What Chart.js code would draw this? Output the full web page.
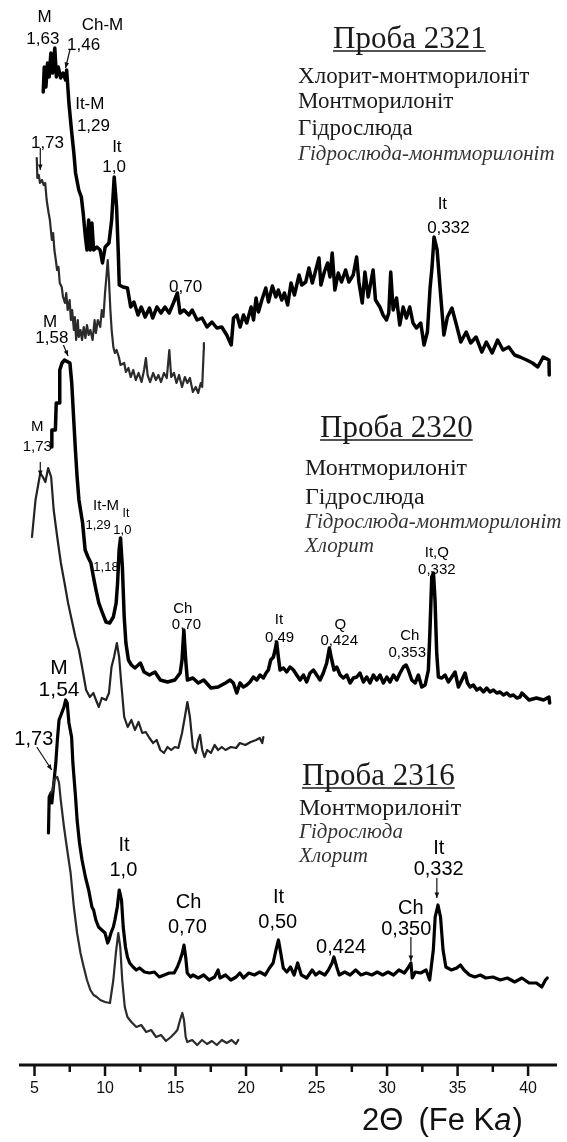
<!DOCTYPE html>
<html lang="uk">
<head>
<meta charset="utf-8">
<title>Дифрактограми: проби 2321, 2320, 2316</title>
<script src="https://cdn.jsdelivr.net/npm/chart.js@4.4.1/dist/chart.umd.min.js"></script>
<style>
  html, body { margin: 0; padding: 0; background: #fff; }
  canvas { display: block; }
</style>
</head>
<body>
<canvas id="xrd" width="567" height="1142"></canvas>
<script>
// 2θ (deg) and stacked intensity (a.u.), one pair per curve

// Проба 2321, thick curve
const t2321 = [5.62,5.69,5.81,5.92,6.04,6.16,6.28,6.44,6.55,6.69,6.85,7.02,7.21,7.28,7.44,7.62,7.79,7.91,8.14,8.32,8.45,8.61,8.72,8.84,8.95,9.07,9.19,9.42,9.65,9.82,10.01,10.28,10.47,10.65,10.82,10.94,11.01,11.28,11.59,11.82,12.05,12.34,12.57,12.85,13.15,13.38,13.68,13.97,14.25,14.55,14.85,15.13,15.32,15.6,15.95,16.18,16.53,16.88,17.23,17.58,17.93,18.28,18.63,
  18.95,19.11,19.35,19.58,19.82,20.05,20.36,20.53,20.71,20.88,21.12,21.4,21.59,21.87,22.11,22.29,22.53,22.72,22.95,23.19,23.43,23.76,23.95,24.23,24.46,24.7,24.89,25.17,25.31,25.55,25.78,25.95,26.11,26.3,26.54,26.77,27.06,27.29,27.6,27.84,28.0,28.24,28.43,28.66,29.01,29.18,29.49,29.72,29.96,30.12,30.26,30.43,30.67,30.9,31.14,31.37,31.61,31.84,32.08,32.39,32.62,32.86,33.05,33.19,33.33,33.55,33.77,34.03,34.28,34.6,34.92,35.23,35.61,35.93,36.31,36.72,37.04,37.45,37.84,38.22,38.63,39.04,39.42,39.9,40.31,40.69,41.07,41.48,41.5];
const i2321 = [973,998,978,1002,988,1012,992,1017,988,998,987,992,985,995,962,935,912,892,875,868,852,828,815,845,815,842,815,818,815,802,818,822,845,888,858,812,780,778,777,758,763,750,758,748,757,747,758,752,758,752,762,772,752,755,750,755,745,747,738,743,737,738,730,
  720,747,750,738,750,742,758,745,767,753,765,777,763,779,768,775,765,772,760,782,770,790,780,783,797,782,792,807,780,793,802,788,812,775,792,783,795,783,790,808,783,762,793,768,795,765,758,750,745,752,793,755,767,740,758,747,758,742,737,742,720,733,777,798,828,815,775,730,748,757,740,723,733,722,728,713,723,712,725,715,718,710,708,705,702,698,708,705,690];

// Проба 2321, thin curve
const t2321b = [5.16,5.2,5.3,5.39,5.53,5.65,5.76,5.86,6.0,6.09,6.23,6.32,6.41,6.51,6.6,6.7,6.79,6.93,7.02,7.16,7.25,7.35,7.49,7.58,7.67,7.79,7.86,7.95,8.07,8.14,8.26,8.37,8.49,8.61,8.72,8.84,8.96,9.12,9.26,9.35,9.49,9.66,9.77,9.89,10.0,10.12,10.19,10.28,10.38,10.47,10.59,10.7,10.82,10.98,
  11.1,11.36,11.48,11.66,11.82,12.0,12.18,12.38,12.59,12.77,12.9,13.02,13.2,13.41,13.61,13.79,13.97,14.18,14.38,14.56,14.69,14.89,15.07,15.25,15.46,15.66,15.84,16.02,16.23,16.43,16.61,16.79,16.89,17.0,17.01];
const i2321b = [907,887,890,882,885,880,882,865,852,845,825,832,815,805,795,798,782,778,768,762,772,755,765,745,755,735,748,725,745,728,735,725,738,727,740,730,735,725,745,732,745,738,755,748,772,792,805,785,755,735,718,712,715,708,
  700,702,693,697,688,695,685,692,683,695,707,690,683,692,685,690,683,692,687,715,688,692,682,690,678,688,682,687,673,678,672,682,678,715,722];

// Проба 2320, thick curve
const t2320 = [6.23,6.23,6.48,6.54,6.74,6.79,6.95,7.13,7.38,7.51,7.64,7.77,7.9,8.02,8.15,8.41,8.59,8.79,9.0,9.18,9.36,9.56,9.82,10.07,10.33,10.59,10.79,10.89,11.0,11.1,11.23,11.36,11.48,11.66,11.87,12.12,12.51,12.77,13.15,13.54,13.92,14.43,14.95,15.33,15.46,15.59,15.72,15.84,16.23,16.61,17.0,17.51,18.02,18.54,
  18.87,19.1,19.34,19.57,19.81,20.05,20.28,20.52,20.76,20.99,21.23,21.42,21.58,21.75,21.94,22.06,22.17,22.29,22.41,22.65,22.88,23.12,23.36,23.59,23.83,24.07,24.3,24.54,24.78,25.01,25.25,25.48,25.72,25.91,26.08,26.24,26.43,26.67,26.9,27.14,27.38,27.61,27.85,28.08,28.32,28.56,28.79,29.03,29.27,29.5,29.74,29.98,30.21,30.45,30.69,30.92,31.16,31.35,31.51,31.75,31.99,32.22,32.46,32.7,32.93,33.05,33.17,33.29,33.4,33.52,33.64,33.88,34.11,34.35,34.59,34.82,35.06,35.3,35.53,35.7,35.89,36.12,36.36,36.6,36.83,37.07,37.3,37.54,37.78,38.01,38.25,38.49,38.72,38.96,39.2,39.43,
  39.56,40.07,40.59,41.1,41.48,41.53];
const i2320 = [618,635,635,662,662,695,702,705,703,702,682,648,615,588,565,542,515,508,502,488,475,462,452,443,442,448,462,482,515,527,498,448,422,405,400,397,402,393,390,393,385,383,385,392,405,435,405,385,387,382,385,377,378,382,
  385,382,372,382,378,380,383,388,385,390,387,392,395,405,408,415,423,408,395,397,393,398,395,390,385,390,383,392,395,390,385,392,402,417,405,395,398,390,387,390,382,387,388,392,383,388,382,390,385,390,382,388,383,390,385,392,398,400,395,385,382,390,378,380,395,438,488,492,465,412,388,387,390,383,388,393,378,385,392,382,378,380,375,377,373,377,373,375,372,373,370,372,369,370,367,368,
  372,365,367,365,368,362];

// Проба 2320, thin curve
const t2320b = [4.82,5.07,5.41,5.59,5.77,5.97,6.18,6.36,6.61,6.87,7.13,7.38,7.64,7.9,8.15,8.41,8.66,8.92,9.18,9.36,9.56,9.77,10.07,10.28,10.46,10.64,10.84,11.0,11.15,
  11.36,11.61,11.87,12.12,12.38,12.64,12.89,13.15,13.41,13.66,13.92,14.18,14.43,14.69,14.95,15.2,15.46,15.66,15.84,16.02,16.23,16.43,16.61,16.74,16.89,17.05,17.25,17.51,17.77,18.02,18.28,18.54,18.92,19.3,19.56,19.95,20.33,20.71,20.97,21.15,21.23];
const i2320b = [528,565,592,588,583,597,588,555,528,502,482,462,445,428,415,395,375,368,372,365,358,367,365,372,398,408,422,408,382,
  348,338,345,335,343,332,333,327,322,325,315,312,318,315,318,317,332,348,363,348,318,312,325,330,315,308,315,312,320,315,318,315,318,317,322,320,323,325,327,322,328];

// Проба 2316, thick curve
const t2316 = [5.99,6.04,6.16,6.23,6.32,6.44,6.51,6.62,6.74,6.93,7.09,7.21,7.32,7.44,7.63,7.72,7.91,8.02,8.19,8.37,8.61,8.84,9.07,9.19,9.35,9.54,9.77,10.0,10.19,10.28,10.42,10.59,10.7,10.87,11.01,11.17,11.29,11.45,11.59,11.75,11.99,12.22,12.45,12.8,13.15,13.5,13.85,14.2,14.55,14.9,15.13,15.32,15.48,15.6,15.72,15.83,16.07,
  16.23,16.61,17.0,17.38,17.77,18.02,18.15,18.54,18.92,19.3,19.56,19.82,20.2,20.59,20.97,21.36,21.66,21.92,22.12,22.3,22.46,22.64,22.89,23.15,23.41,23.66,23.92,24.3,24.69,24.94,25.2,25.59,25.84,26.1,26.23,26.43,26.61,27.0,27.38,27.77,28.15,28.53,28.92,29.3,29.69,30.07,30.46,30.84,31.23,31.48,31.69,31.79,32.0,32.38,32.77,33.02,33.28,33.41,33.61,33.79,33.97,34.17,34.56,34.94,35.2,35.46,35.84,36.23,36.61,37.0,37.51,38.02,38.53,39.05,39.56,40.07,40.59,40.97,41.23,41.36];
const i2316 = [232,268,272,262,275,292,302,325,345,352,358,365,362,342,328,302,268,245,222,205,188,175,158,155,145,138,135,132,122,125,132,138,145,158,175,165,138,118,108,102,98,95,97,93,92,93,88,90,92,92,98,105,112,120,108,92,88,
  90,87,90,85,88,95,87,90,85,88,92,87,92,90,93,90,97,102,115,125,112,97,93,98,90,102,90,87,95,90,93,90,95,102,108,98,90,93,90,95,90,92,90,93,90,93,90,95,92,97,102,87,93,92,95,85,115,148,160,148,115,98,95,97,100,95,90,88,90,87,88,85,87,83,87,82,82,78,85,87];

// Проба 2316, thin curve
const t2316b = [6.16,6.28,6.39,6.51,6.62,6.74,6.86,7.09,7.32,7.56,7.79,8.02,8.26,8.49,8.72,8.96,9.19,9.42,9.66,10.0,10.35,10.59,10.77,10.94,11.08,11.22,11.4,11.59,11.87,12.22,12.57,12.92,13.27,13.62,13.97,14.32,14.67,14.95,15.13,15.32,15.48,15.6,15.72,15.83,16.18,16.53,16.88,17.23,17.58,17.93,18.28,18.63,18.98,19.28,19.45];
const i2316b = [272,275,285,287,288,282,265,238,215,192,158,132,112,98,85,75,70,68,65,63,62,85,112,132,118,85,58,48,43,38,40,33,35,28,30,24,28,32,35,45,52,45,28,23,25,20,25,21,24,20,25,22,25,21,25];

// axis ticks
const majorTicks = [5, 10, 15, 20, 25, 30, 35, 40];
const minorTicks = [7.5, 12.5, 17.5, 22.5, 27.5, 32.5, 37.5];

// peak labels: text, 2θ, intensity, font size
const peakLabels = [
  ['M', 5.72, 1048, 17], ['1,63', 5.59, 1026, 17], ['Ch-M', 9.82, 1040, 17], ['1,46', 8.48, 1020, 17],
  ['It-M', 8.92, 961, 17], ['1,29', 9.18, 939, 17], ['1,73', 5.92, 922, 17],
  ['It', 10.84, 918, 17], ['1,0', 10.64, 898, 17], ['0,70', 15.71, 778, 17],
  ['It', 33.92, 861, 17], ['0,332', 34.35, 837, 17], ['M', 6.1, 743, 17], ['1,58', 6.23, 727, 17],
  ['M', 5.2, 638, 15], ['1,73', 5.2, 618, 15], ['It-M', 10.07, 559, 15], ['It', 11.48, 551, 12],
  ['1,29', 9.51, 540, 13], ['1,0', 11.23, 535, 13], ['1,18', 10.07, 498, 13],
  ['Ch', 15.51, 456, 15], ['0,70', 15.77, 440, 15], ['It', 22.33, 445, 15], ['0,49', 22.38, 427, 15],
  ['Q', 26.69, 440, 15], ['0,424', 26.61, 424, 15], ['Ch', 31.61, 429, 15], ['0,353', 31.43, 412, 15],
  ['It,Q', 33.53, 512, 15], ['0,332', 33.53, 495, 15],
  ['M', 6.74, 397, 21], ['1,54', 6.74, 375, 21], ['1,73', 4.95, 326, 20],
  ['It', 11.35, 220, 20], ['1,0', 11.3, 195, 20], ['Ch', 15.92, 163, 20], ['0,70', 15.84, 138, 20],
  ['It', 22.3, 168, 20], ['0,50', 22.25, 143, 20], ['0,424', 26.74, 118, 20],
  ['Ch', 31.69, 157, 20], ['0,350', 31.36, 136, 20], ['It', 33.66, 217, 20], ['0,332', 33.66, 196, 20]
];

// arrows from label to peak: 2θ from, intensity from, 2θ to, intensity to
const arrows = [
  [7.51, 1015, 7.2, 997], [5.41, 917, 5.41, 895], [7.05, 720, 7.38, 709],
  [5.41, 603, 5.41, 589], [5.16, 318, 6.22, 295], [31.69, 128, 31.69, 104], [33.53, 187, 33.53, 167]
];

// sample descriptions: text, 2θ of left edge, intensity of baseline, style
const sampleText = [
  ['Проба 2321', 26.17, 1017, 'title'],
  ['Хлорит-монтморилоніт', 23.69, 982, 'a'],
  ['Монтморилоніт', 23.69, 957, 'a'],
  ['Гідрослюда', 23.69, 930, 'a'],
  ['Гідрослюда-монтморилоніт', 23.69, 905, 'i'],
  ['Проба 2320', 25.25, 628, 'title'],
  ['Монтморилоніт', 24.18, 590, 'b'],
  ['Гідрослюда', 24.18, 561, 'b'],
  ['Гідрослюда-монтморилоніт', 24.18, 537, 'i'],
  ['Хлорит', 24.18, 513, 'i'],
  ['Проба 2316', 23.97, 280, 'title'],
  ['Монтморилоніт', 23.76, 250, 'b'],
  ['Гідрослюда', 23.76, 227, 'i'],
  ['Хлорит', 23.76, 203, 'i']
];

const SANS = '"Liberation Sans", Arial, sans-serif';
const SERIF = '"Liberation Serif", "Times New Roman", serif';
const textFonts = {
  title: '31px ' + SERIF,
  a: '23px ' + SERIF,
  b: '24px ' + SERIF,
  i: 'italic 21px ' + SERIF
};

function pts(xs, ys) {
  return xs.map((x, k) => ({ x: x, y: ys[k] }));
}

function curve(xs, ys, color, width) {
  return {
    data: pts(xs, ys),
    showLine: true,
    borderColor: color,
    borderWidth: width,
    pointRadius: 0,
    tension: 0,
    borderJoinStyle: 'round',
    borderCapStyle: 'round',
    clip: false
  };
}

const overlay = {
  id: 'overlay',
  afterDraw(chart) {
    const ctx = chart.ctx;
    const area = chart.chartArea;
    const x = chart.scales.x;
    const y = chart.scales.y;
    ctx.save();

    // axis line and ticks
    ctx.strokeStyle = '#111';
    ctx.lineWidth = 3;
    ctx.beginPath();
    ctx.moveTo(area.left, area.bottom);
    ctx.lineTo(area.right, area.bottom);
    ctx.stroke();
    ctx.lineWidth = 2.5;
    majorTicks.forEach(v => {
      const px = x.getPixelForValue(v);
      ctx.beginPath(); ctx.moveTo(px, area.bottom); ctx.lineTo(px, area.bottom + 11); ctx.stroke();
    });
    minorTicks.forEach(v => {
      const px = x.getPixelForValue(v);
      ctx.beginPath(); ctx.moveTo(px, area.bottom); ctx.lineTo(px, area.bottom + 7); ctx.stroke();
    });

    // axis title 2Θ (Fe Ka)
    let tx = x.getPixelForValue(28.23);
    const ty = area.bottom + 65;
    ctx.fillStyle = '#111';
    ctx.textAlign = 'left';
    ctx.textBaseline = 'alphabetic';
    ctx.font = '31px ' + SANS;
    ctx.fillText('2Θ', tx, ty);
    tx += ctx.measureText('2Θ').width + 15;
    ctx.fillText('(Fe K', tx, ty);
    tx += ctx.measureText('(Fe K').width;
    ctx.font = 'italic 31px ' + SANS;
    ctx.fillText('a', tx, ty);
    tx += ctx.measureText('a').width + 1;
    ctx.font = '31px ' + SANS;
    ctx.fillText(')', tx, ty);

    // peak labels
    ctx.fillStyle = '#000';
    ctx.textAlign = 'center';
    ctx.textBaseline = 'middle';
    peakLabels.forEach(([txt, lx, ly, size]) => {
      ctx.font = size + 'px ' + SANS;
      ctx.fillText(txt, x.getPixelForValue(lx), y.getPixelForValue(ly));
    });

    // arrows
    ctx.strokeStyle = '#111';
    ctx.fillStyle = '#111';
    ctx.lineWidth = 1.2;
    arrows.forEach(([x0, y0, x1, y1]) => {
      const ax = x.getPixelForValue(x0), ay = y.getPixelForValue(y0);
      const bx = x.getPixelForValue(x1), by = y.getPixelForValue(y1);
      const ang = Math.atan2(by - ay, bx - ax);
      ctx.beginPath(); ctx.moveTo(ax, ay); ctx.lineTo(bx, by); ctx.stroke();
      ctx.beginPath();
      ctx.moveTo(bx, by);
      ctx.lineTo(bx - 6 * Math.cos(ang - 0.4), by - 6 * Math.sin(ang - 0.4));
      ctx.lineTo(bx - 6 * Math.cos(ang + 0.4), by - 6 * Math.sin(ang + 0.4));
      ctx.closePath();
      ctx.fill();
    });

    // sample descriptions
    ctx.textAlign = 'left';
    ctx.textBaseline = 'alphabetic';
    sampleText.forEach(([txt, lx, ly, style]) => {
      const px = x.getPixelForValue(lx), py = y.getPixelForValue(ly);
      ctx.font = textFonts[style];
      ctx.fillStyle = style === 'i' ? '#333' : '#1a1a1a';
      ctx.fillText(txt, px, py);
      if (style === 'title') {
        const w = ctx.measureText(txt).width;
        ctx.strokeStyle = '#1a1a1a';
        ctx.lineWidth = 1.5;
        ctx.beginPath(); ctx.moveTo(px, py + 3); ctx.lineTo(px + w, py + 3); ctx.stroke();
      }
    });

    ctx.restore();
  }
};

new Chart(document.getElementById('xrd'), {
  type: 'scatter',
  data: {
    datasets: [
      curve(t2321b, i2321b, '#2b2b2b', 2.2),
      curve(t2321, i2321, '#000', 3.5),
      curve(t2320b, i2320b, '#222', 2.2),
      curve(t2320, i2320, '#000', 3.5),
      curve(t2316b, i2316b, '#2b2b2b', 2.2),
      curve(t2316, i2316, '#000', 3.2)
    ]
  },
  options: {
    responsive: false,
    animation: false,
    devicePixelRatio: 1,
    layout: { padding: { left: 19, right: 10, top: 0, bottom: 0 } },
    plugins: { legend: { display: false }, tooltip: { enabled: false } },
    scales: {
      x: {
        type: 'linear',
        min: 3.9,
        max: 42.05,
        grid: { display: false, drawTicks: false },
        border: { display: false },
        afterBuildTicks: s => { s.ticks = majorTicks.map(v => ({ value: v })); },
        afterFit: s => { s.height = 77; },
        ticks: {
          padding: 14,
          color: '#111',
          maxRotation: 0,
          autoSkip: false,
          font: { family: SANS, size: 16 },
          callback: v => String(v)
        }
      },
      y: { display: false, min: 0, max: 1065 }
    }
  },
  plugins: [overlay]
});
</script>
</body>
</html>
